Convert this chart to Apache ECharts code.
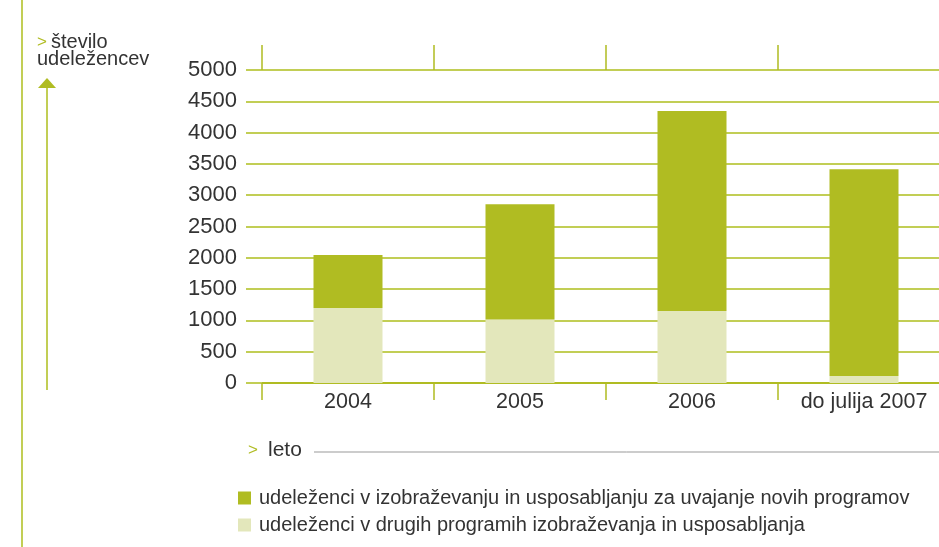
<!DOCTYPE html>
<html>
<head>
<meta charset="utf-8">
<script src="https://cdn.jsdelivr.net/npm/echarts@6/dist/echarts.min.js"></script>
<style>html,body{margin:0;padding:0;background:#fff;}#c{width:939px;height:547px;}</style>
</head>
<body>
<div id="c"></div>
<script>
const categories = ['2004', '2005', '2006', 'do julija 2007'];
const otherPrograms = [1200, 1015, 1150, 110];
const newPrograms = [845, 1840, 3195, 3305];
const yTicks = [0, 500, 1000, 1500, 2000, 2500, 3000, 3500, 4000, 4500, 5000];
const seriesNames = [
  'udeleženci v izobraževanju in usposabljanju za uvajanje novih programov',
  'udeleženci v drugih programih izobraževanja in usposabljanja'
];

const GREEN = '#b0bc22';
const LIGHT = '#e3e7bb';
const LINE = '#c2ce55';
const FONT = '"Liberation Sans", Arial, sans-serif';

const chart = echarts.init(document.getElementById('c'));
chart.setOption({
  animation: false,
  backgroundColor: '#fff',
  textStyle: { fontFamily: FONT, color: '#333' },
  grid: { left: 262, top: 70, right: -11, bottom: 164, containLabel: false, outerBoundsMode: 'none' },
  legend: {
    orient: 'vertical', left: 233, top: 483,
    itemWidth: 13, itemHeight: 13, itemGap: 7,
    icon: 'rect',
    data: seriesNames,
    textStyle: { fontFamily: FONT, fontSize: 20, color: '#333', padding: [0, 0, 0, 3] }
  },
  xAxis: [{
    type: 'category', data: categories, position: 'bottom',
    axisLine: { show: true, lineStyle: { color: GREEN, width: 2 } },
    axisTick: { show: true, length: 17, lineStyle: { color: GREEN, width: 1.5 } },
    axisLabel: { fontSize: 21.5, color: '#333', margin: 8, fontFamily: FONT }
  }, {
    type: 'category', data: categories, position: 'top',
    axisLine: { show: false },
    axisTick: { show: true, length: 25, lineStyle: { color: GREEN, width: 1.5 } },
    axisLabel: { show: false }
  }],
  yAxis: {
    type: 'value', min: yTicks[0], max: yTicks[yTicks.length - 1], interval: yTicks[1] - yTicks[0],
    axisLine: { show: false },
    axisTick: { show: true, length: 16, lineStyle: { color: LINE, width: 2 } },
    axisLabel: { fontSize: 22, color: '#333', margin: 25, fontFamily: FONT, formatter: v => String(v) },
    splitLine: { show: true, lineStyle: { color: LINE, width: 2 } }
  },
  series: [{
    name: seriesNames[1], type: 'bar', stack: 'a', xAxisIndex: 0,
    data: otherPrograms, barWidth: 69, itemStyle: { color: LIGHT }
  }, {
    name: seriesNames[0], type: 'bar', stack: 'a', xAxisIndex: 0,
    data: newPrograms, barWidth: 69, itemStyle: { color: GREEN }
  }],
  graphic: [
    { type: 'line', shape: { x1: 22, y1: 0, x2: 22, y2: 547 }, style: { stroke: LINE, lineWidth: 2 } },
    { type: 'line', shape: { x1: 47, y1: 86, x2: 47, y2: 390 }, style: { stroke: LINE, lineWidth: 2 } },
    { type: 'polygon', shape: { points: [[47, 78], [38, 88], [56, 88]] }, style: { fill: GREEN } },
    { type: 'text', left: 37, top: 34, style: { text: '>', fill: GREEN, font: '17px ' + FONT } },
    { type: 'text', left: 51, top: 32, style: { text: 'število', fill: '#333', font: '20px ' + FONT } },
    { type: 'text', left: 37, top: 49, style: { text: 'udeležencev', fill: '#333', font: '20px ' + FONT } },
    { type: 'text', left: 248, top: 442, style: { text: '>', fill: GREEN, font: '17px ' + FONT } },
    { type: 'text', left: 268, top: 440, style: { text: 'leto', fill: '#333', font: '21px ' + FONT } },
    { type: 'line', shape: { x1: 314, y1: 452, x2: 939, y2: 452 }, style: { stroke: '#999', lineWidth: 1 } }
  ]
});
</script>
</body>
</html>
